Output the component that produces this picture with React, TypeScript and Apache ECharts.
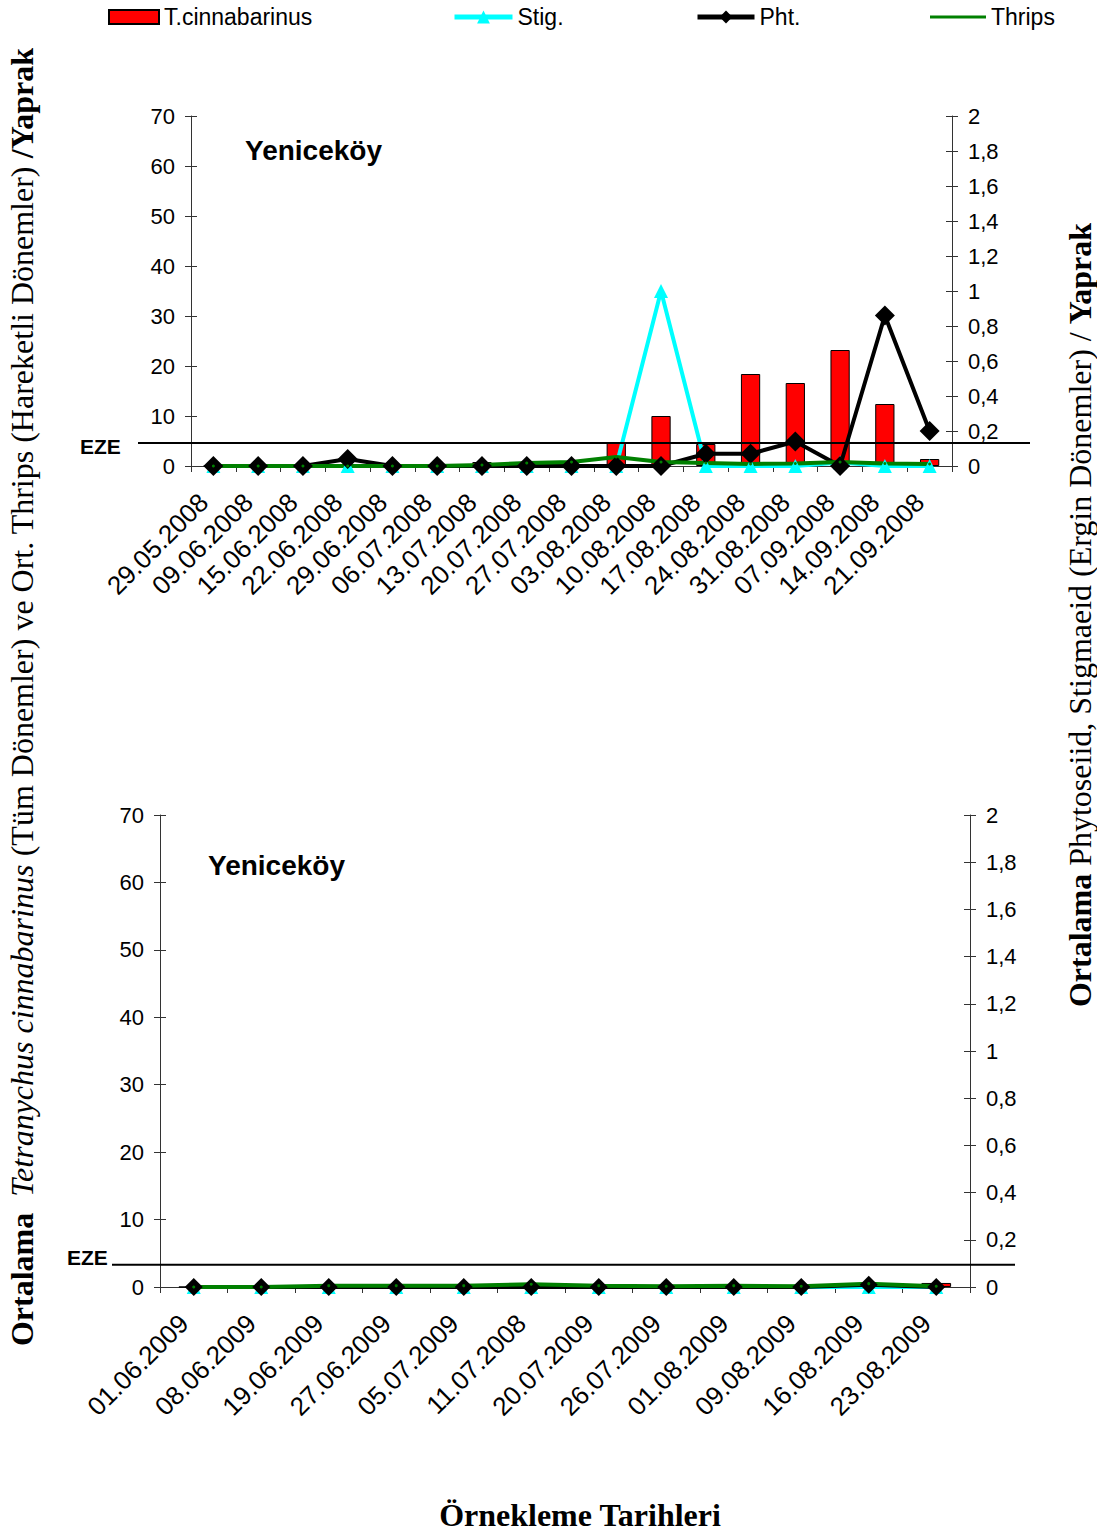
import React, { useEffect, useRef } from "react";
import * as echarts from "echarts";

const legendNames = ["T.cinnabarinus", "Stig.", "Pht.", "Thrips"];

const topDates = [
  "29.05.2008", "09.06.2008", "15.06.2008", "22.06.2008", "29.06.2008", "06.07.2008",
  "13.07.2008", "20.07.2008", "27.07.2008", "03.08.2008", "10.08.2008", "17.08.2008",
  "24.08.2008", "31.08.2008", "07.09.2008", "14.09.2008", "21.09.2008",
];
const topTcin = [0, 0, 0, 0, 0, 0, 0.8, 0, 0, 4.8, 10, 4.4, 18.4, 16.6, 23.2, 12.4, 1.4];
const topStig = [0, 0, 0, 0, 0, 0, 0, 0, 0, 0, 1.0, 0, 0, 0, 0.02, 0, 0];
const topPht = [0, 0, 0, 0.04, 0, 0, 0, 0, 0, 0, 0, 0.07, 0.07, 0.14, 0, 0.86, 0.2];
const topThrips = [0, 0, 0, 0, 0, 0, 0.2, 0.6, 0.8, 1.8, 0.8, 0.6, 0.4, 0.5, 0.8, 0.5, 0.4];

const botDates = [
  "01.06.2009", "08.06.2009", "19.06.2009", "27.06.2009", "05.07.2009", "11.07.2008",
  "20.07.2009", "26.07.2009", "01.08.2009", "09.08.2009", "16.08.2009", "23.08.2009",
];
const botTcin = [0, 0, 0, 0, 0, 0, 0, 0, 0, 0, 0, 0.6];
const botStig = [0, 0, 0, 0, 0, 0, 0, 0, 0, 0, 0, 0];
const botPht = [0, 0, 0, 0, 0, 0, 0, 0, 0, 0, 0.01, 0];
const botThrips = [0, 0, 0.2, 0.2, 0.2, 0.4, 0.2, 0.1, 0.2, 0.1, 0.5, 0.1];

const EZE_TOP = 4.6;
const EZE_BOT = 3.3;

const leftTicks = { min: 0, max: 70, interval: 10 };
const rightTicks = { min: 0, max: 2, interval: 0.2 };

const SANS = "'Liberation Sans', Arial, sans-serif";
const SERIF = "'Liberation Serif', 'Times New Roman', serif";
const AXIS_COLOR = "#333";

const fmtRight = (v: number) => String(+v.toFixed(1)).replace(".", ",");

function yAx(grid: number, pos: "left" | "right", t: any, inner: boolean) {
  return {
    type: "value",
    gridIndex: grid,
    position: pos,
    min: t.min,
    max: t.max,
    interval: t.interval,
    splitLine: { show: false },
    axisLine: { show: !inner, lineStyle: { color: AXIS_COLOR, width: 1 } },
    axisTick: { show: true, inside: inner, length: 6, lineStyle: { color: AXIS_COLOR } },
    axisLabel: {
      show: !inner,
      fontSize: 22,
      fontFamily: SANS,
      color: "#000",
      margin: 16,
      formatter: pos === "right" ? (v: number) => fmtRight(v) : undefined,
    },
  };
}

function xAx(grid: number, data: string[]) {
  return {
    type: "category",
    gridIndex: grid,
    data,
    boundaryGap: true,
    axisLine: { lineStyle: { color: AXIS_COLOR, width: 1 } },
    axisTick: { show: true, length: 6, lineStyle: { color: AXIS_COLOR } },
    axisLabel: {
      rotate: 45,
      fontSize: 26,
      fontFamily: SANS,
      color: "#000",
      margin: 22,
      interval: 0,
      padding: [0, 14, 0, 0],
    },
  };
}

function seriesFor(grid: number, tc: number[], st: number[], ph: number[], th: number[], barW: string) {
  const xi = grid;
  const yl = grid * 2;
  const yr = grid * 2 + 1;
  return [
    {
      name: "T.cinnabarinus",
      type: "bar",
      xAxisIndex: xi,
      yAxisIndex: yl,
      data: tc,
      barWidth: barW,
      itemStyle: { color: "#ff0000", borderColor: "#000", borderWidth: 1 },
    },
    {
      name: "Stig.",
      type: "line",
      xAxisIndex: xi,
      yAxisIndex: yr,
      data: st,
      color: "#00ffff",
      lineStyle: { color: "#00ffff", width: 4 },
      itemStyle: { color: "#00ffff" },
      symbol: "triangle",
      symbolSize: 14,
    },
    {
      name: "Pht.",
      type: "line",
      xAxisIndex: xi,
      yAxisIndex: yr,
      data: ph,
      color: "#000",
      lineStyle: { color: "#000", width: 4 },
      itemStyle: { color: "#000" },
      symbol: "diamond",
      symbolSize: grid === 0 ? 20 : 18,
    },
    {
      name: "Thrips",
      type: "line",
      xAxisIndex: xi,
      yAxisIndex: yl,
      data: th,
      color: "#008000",
      lineStyle: { color: "#008000", width: 4 },
      itemStyle: { color: "#008000" },
      symbol: "circle",
      symbolSize: 3,
    },
  ];
}

function legendAt(name: string, left: number, w: number, icon?: string, h = 14) {
  return {
    data: [name],
    left,
    top: 17 - 12,
    padding: 0,
    itemWidth: w,
    itemHeight: h,
    itemGap: 0,
    icon,
    lineStyle: { width: 5 },
    textStyle: { fontSize: 23, fontFamily: SANS, color: "#000", padding: [0, 0, 0, 0], lineHeight: 24 },
  };
}

export default function App() {
  const ref = useRef<HTMLDivElement>(null);
  useEffect(() => {
    if (!ref.current) return;
    const chart = echarts.init(ref.current, undefined, { renderer: "svg" });
    chart.setOption({
      animation: false,
      backgroundColor: "#fff",
      legend: [
        legendAt(legendNames[0], 108, 50, "rect", 14),
        legendAt(legendNames[1], 452, 58, undefined, 16),
        legendAt(legendNames[2], 695, 57, undefined, 16),
        legendAt(legendNames[3], 930, 56, "rect", 3),
      ],
      grid: [
        { left: 191, top: 116, width: 761, height: 350 },
        { left: 160, top: 815, width: 810, height: 472 },
      ],
      xAxis: [xAx(0, topDates), xAx(1, botDates)],
      yAxis: [
        yAx(0, "left", leftTicks, false),
        yAx(0, "right", rightTicks, false),
        yAx(1, "left", leftTicks, false),
        yAx(1, "right", rightTicks, false),
        yAx(0, "left", leftTicks, true),
        yAx(0, "right", rightTicks, true),
        yAx(1, "left", leftTicks, true),
        yAx(1, "right", rightTicks, true),
      ],
      series: [
        ...seriesFor(0, topTcin, topStig, topPht, topThrips, "43%"),
        ...seriesFor(1, botTcin, botStig, botPht, botThrips, "44%"),
      ],
    });

    const yTop = chart.convertToPixel({ yAxisIndex: 0 } as any, EZE_TOP) as number;
    const yBot = chart.convertToPixel({ yAxisIndex: 2 } as any, EZE_BOT) as number;

    chart.setOption({
      graphic: [
        { type: "line", shape: { x1: 138, y1: yTop, x2: 1030, y2: yTop }, style: { stroke: "#000", lineWidth: 2 }, z: 10 },
        { type: "line", shape: { x1: 112, y1: yBot, x2: 1015, y2: yBot }, style: { stroke: "#000", lineWidth: 2 }, z: 10 },
        {
          type: "text", x: 80, y: yTop + 3,
          style: { text: "EZE", font: `bold 21px ${SANS}`, fill: "#000", textAlign: "left", textVerticalAlign: "middle" },
        },
        {
          type: "text", x: 67, y: yBot - 7,
          style: { text: "EZE", font: `bold 21px ${SANS}`, fill: "#000", textAlign: "left", textVerticalAlign: "middle" },
        },
        {
          type: "text", x: 245, y: 150,
          style: { text: "Yeniceköy", font: `bold 28px ${SANS}`, fill: "#000", textAlign: "left", textVerticalAlign: "middle" },
        },
        {
          type: "text", x: 208, y: 865,
          style: { text: "Yeniceköy", font: `bold 28px ${SANS}`, fill: "#000", textAlign: "left", textVerticalAlign: "middle" },
        },
        {
          type: "text", x: 22, y: 697, rotation: Math.PI / 2,
          style: {
            text: "{b|Ortalama}  {i|Tetranychus cinnabarinus} (Tüm Dönemler) ve Ort. Thrips (Hareketli Dönemler) {b|/Yaprak}",
            font: `32px ${SERIF}`,
            fill: "#000",
            textAlign: "center",
            textVerticalAlign: "middle",
            rich: {
              b: { fontWeight: "bold", fontSize: 32, fontFamily: SERIF, fill: "#000" },
              i: { fontStyle: "italic", fontSize: 32, fontFamily: SERIF, fill: "#000" },
            },
          },
        },
        {
          type: "text", x: 1080, y: 615, rotation: Math.PI / 2,
          style: {
            text: "{b|Ortalama} Phytoseiid, Stigmaeid (Ergin Dönemler) / {b|Yaprak}",
            font: `32px ${SERIF}`,
            fill: "#000",
            textAlign: "center",
            textVerticalAlign: "middle",
            rich: {
              b: { fontWeight: "bold", fontSize: 32, fontFamily: SERIF, fill: "#000" },
            },
          },
        },
        {
          type: "text", x: 580, y: 1515,
          style: { text: "Örnekleme Tarihleri", font: `bold 32px ${SERIF}`, fill: "#000", textAlign: "center", textVerticalAlign: "middle" },
        },
      ],
    });

    return () => chart.dispose();
  }, []);
  return <div ref={ref} style={{ position: "absolute", left: 0, top: 0, width: 1097, height: 1535 }} />;
}
